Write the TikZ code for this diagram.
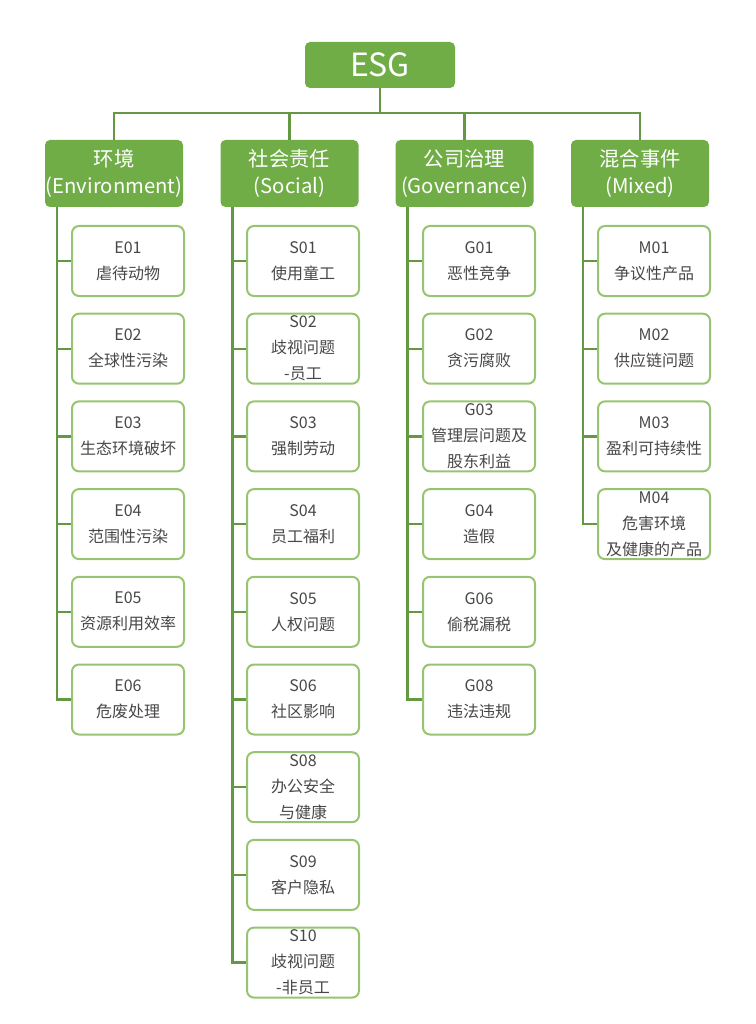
\documentclass[tikz,border=0pt]{standalone}
\usepackage{fontspec}
\setmainfont{Noto Sans CJK SC}
\definecolor{esg-green}{RGB}{112,173,71}
\definecolor{esg-line}{RGB}{100,152,66}
\definecolor{esg-edge}{RGB}{150,196,112}
\definecolor{esg-text}{RGB}{72,72,72}

\begin{document}
\begin{tikzpicture}[x=1pt,y=-1pt,
	head/.style={fill=esg-green,rounded corners=5pt,text=white,align=center,inner sep=0pt},
	cat/.style={head,minimum width=138pt,minimum height=67pt,font=\fontsize{20.3}{27}\selectfont},
	item/.style={draw=esg-edge,line width=2pt,rounded corners=7pt,fill=white,text=esg-text,
		minimum width=112pt,minimum height=70pt,inner sep=0pt,align=center,font=\fontsize{16}{26}\selectfont},
	link/.style={draw=esg-line,line width=2.4pt}]
\useasboundingbox (0,0) rectangle (755,1024);

% top and categories
\node [head,minimum width=150pt,minimum height=46pt,font=\fontsize{32}{36}\selectfont] (esg) at (380,65) {ESG};
\node [cat] (env) at (114,173.5) {环境\\(Environment)};
\node [cat] (soc) at (289.5,173.5) {社会责任\\(Social)};
\node [cat] (gov) at (464.5,173.5) {公司治理\\(Governance)};
\node [cat] (mix) at (640,173.5) {混合事件\\(Mixed)};

\coordinate (bus) at (380,113);
\draw [link] (esg.south) -- (bus);
\draw [link] (env.north) |- (bus) -| (mix.north);
\draw [link] (soc.north) -- (soc.north |- bus);
\draw [link] (gov.north) -- (gov.north |- bus);

% items
\foreach \i/\txt in {1/{E01\\虐待动物},2/{E02\\全球性污染},3/{E03\\生态环境破坏},
	4/{E04\\范围性污染},5/{E05\\资源利用效率},6/{E06\\危废处理}}
	\node [item] (E\i) at (128,{261+87.7*(\i-1)}) {\txt};
\foreach \i/\txt in {1/{S01\\使用童工},2/{S02\\歧视问题\\-员工},3/{S03\\强制劳动},
	4/{S04\\员工福利},5/{S05\\人权问题},6/{S06\\社区影响},7/{S08\\办公安全\\与健康},
	8/{S09\\客户隐私},9/{S10\\歧视问题\\-非员工}}
	\node [item] (S\i) at (303,{261+87.7*(\i-1)}) {\txt};
\foreach \i/\txt in {1/{G01\\恶性竞争},2/{G02\\贪污腐败},3/{G03\\管理层问题及\\股东利益},
	4/{G04\\造假},5/{G06\\偷税漏税},6/{G08\\违法违规}}
	\node [item] (G\i) at (479,{261+87.7*(\i-1)}) {\txt};
\foreach \i/\txt in {1/{M01\\争议性产品},2/{M02\\供应链问题},3/{M03\\盈利可持续性},
	4/{M04\\危害环境\\及健康的产品}}
	\node [item] (M\i) at (654,{261+87.7*(\i-1)}) {\txt};

% spines
\coordinate (Esp) at ([xshift=12pt]env.south west);
\coordinate (Ssp) at ([xshift=12pt]soc.south west);
\coordinate (Gsp) at ([xshift=12pt]gov.south west);
\coordinate (Msp) at ([xshift=12pt]mix.south west);
\draw [link] (Esp) |- (E6.west);
\draw [link] (Ssp) |- (S9.west);
\draw [link] (Gsp) |- (G6.west);
\draw [link] (Msp) |- (M4.west);
\foreach \i in {1,...,5} \draw [link] (Esp |- E\i.west) -- (E\i.west);
\foreach \i in {1,...,8} \draw [link] (Ssp |- S\i.west) -- (S\i.west);
\foreach \i in {1,...,5} \draw [link] (Gsp |- G\i.west) -- (G\i.west);
\foreach \i in {1,...,3} \draw [link] (Msp |- M\i.west) -- (M\i.west);
\end{tikzpicture}
\end{document}
